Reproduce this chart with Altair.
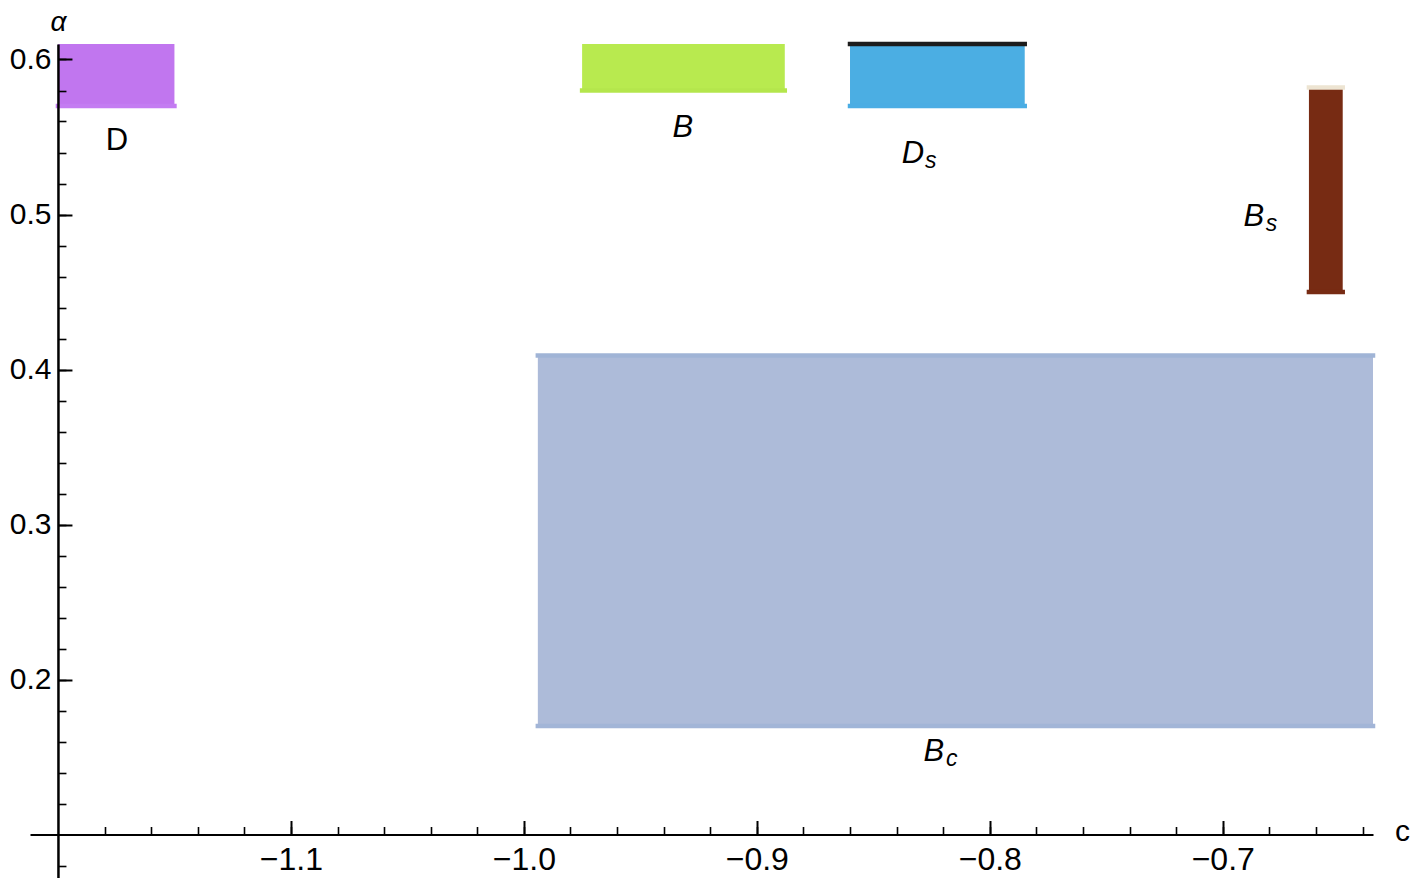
import altair as alt
import pandas as pd

# ---------------- data ----------------
regions = ["D", "B", "Ds", "Bs", "Bc"]
c_lo = [-1.200, -0.975, -0.860, -0.663, -0.994]
c_hi = [-1.150, -0.888, -0.785, -0.6485, -0.6355]
a_lo = [0.570, 0.580, 0.570, 0.450, 0.170]
a_hi = [0.610, 0.610, 0.610, 0.582, 0.409]

label_main = ["D", "B", "D", "B", "B"]
label_sub = ["", "", "s", "s", "c"]
label_c = [-1.1747, -0.9318, -0.833, -0.6867, -0.824]
label_a = [0.5419, 0.5497, 0.5335, 0.4923, 0.1471]

edge_region = ["D", "B", "Ds", "Ds", "Bs", "Bs", "Bc", "Bc"]
edge_side = ["lo", "lo", "lo", "hi", "lo", "hi", "lo", "hi"]

x_major = [-1.1, -1.0, -0.9, -0.8, -0.7]
x_minor = [-1.18, -1.16, -1.14, -1.12, -1.10, -1.08, -1.06, -1.04, -1.02, -1.00,
           -0.98, -0.96, -0.94, -0.92, -0.90, -0.88, -0.86, -0.84, -0.82, -0.80,
           -0.78, -0.76, -0.74, -0.72, -0.70, -0.68, -0.66, -0.64]
y_major = [0.2, 0.3, 0.4, 0.5, 0.6]
y_minor = [0.08, 0.12, 0.14, 0.16, 0.18, 0.20, 0.22, 0.24, 0.26, 0.28, 0.30, 0.32, 0.34,
           0.36, 0.38, 0.40, 0.42, 0.44, 0.46, 0.48, 0.50, 0.52, 0.54, 0.56, 0.58, 0.60]

# ---------------- styles ----------------
fill_colors = {"D": "#c176ef", "B": "#b8ea4f", "Ds": "#4baee3", "Bs": "#772b13", "Bc": "#adbbd9"}
edge_colors = {"D-lo": "#c47cf2", "B-lo": "#b4e64c", "Ds-lo": "#4aade4", "Ds-hi": "#1c1c1c",
               "Bs-lo": "#772b13", "Bs-hi": "#ede4d2", "Bc-lo": "#a2b5d7", "Bc-hi": "#a0b4d6"}

FONT = "Liberation Sans"
W, H = 1343, 837
X_DOM = [-1.212, -0.6355]
Y_DOM = [0.07, 0.61]
x_off = (0.1 - Y_DOM[0]) / (Y_DOM[1] - Y_DOM[0]) * H      # px from bottom to alpha=0.1
y_off = (-1.2 - X_DOM[0]) / (X_DOM[1] - X_DOM[0]) * W     # px from left to c=-1.2

rect_df = pd.DataFrame({"region": regions, "c_lo": c_lo, "c_hi": c_hi, "a_lo": a_lo, "a_hi": a_hi})
label_df = pd.DataFrame({"region": regions, "main": label_main, "sub": label_sub,
                         "lc": label_c, "la": label_a})
edge_rows = []
for r, s in zip(edge_region, edge_side):
    i = regions.index(r)
    edge_rows.append({"key": f"{r}-{s}", "x1": c_lo[i], "x2": c_hi[i],
                      "y": a_lo[i] if s == "lo" else a_hi[i]})
edge_df = pd.DataFrame(edge_rows)

xs = alt.Scale(domain=X_DOM, nice=False, zero=False)
ys = alt.Scale(domain=Y_DOM, nice=False, zero=False)

main_x = alt.Axis(orient="bottom", offset=-x_off, values=x_major, format=".1f",
                  ticks=False, tickSize=0, labelPadding=10, labelFontSize=32, labelFont=FONT,
                  labelColor="black", labelFlush=False, labelOverlap=False,
                  domainColor="black", domainWidth=2, grid=False,
                  title="c", titleX=W + 29, titleY=-3, titleAngle=0, titleAlign="center",
                  titleBaseline="middle", titleFontSize=30, titleFontWeight="normal",
                  titleFont=FONT, titleColor="black", zindex=2)
main_y = alt.Axis(orient="left", offset=-y_off, values=y_major, format=".1f",
                  ticks=False, tickSize=0, labelPadding=7, labelFontSize=30, labelFont=FONT,
                  labelColor="black", labelFlush=False, labelOverlap=False,
                  domainColor="black", domainWidth=2.5, grid=False,
                  title="α", titleX=0, titleY=-22, titleAngle=0, titleAlign="center",
                  titleBaseline="middle", titleFontSize=28, titleFontWeight="normal",
                  titleFontStyle="italic", titleFont=FONT, titleColor="black", zindex=2)
tick_x_major = alt.Axis(orient="top", offset=-(H - x_off), values=x_major, labels=False,
                        domain=False, tickSize=14, tickWidth=2, tickColor="black",
                        grid=False, title=None, zindex=2)
tick_x_minor = alt.Axis(orient="top", offset=-(H - x_off), values=x_minor, labels=False,
                        domain=False, tickSize=8, tickWidth=1.6, tickColor="black",
                        grid=False, title=None, zindex=2)
tick_y_major = alt.Axis(orient="right", offset=-(W - y_off), values=y_major, labels=False,
                        domain=False, tickSize=14, tickWidth=2, tickColor="black",
                        grid=False, title=None, zindex=2)
tick_y_minor = alt.Axis(orient="right", offset=-(W - y_off), values=y_minor, labels=False,
                        domain=False, tickSize=8, tickWidth=1.6, tickColor="black",
                        grid=False, title=None, zindex=2)

rects = alt.Chart(rect_df).mark_rect(strokeWidth=0).encode(
    x=alt.X("c_lo:Q", scale=xs, axis=main_x),
    x2="c_hi:Q",
    y=alt.Y("a_lo:Q", scale=ys, axis=main_y),
    y2="a_hi:Q",
    fill=alt.Fill("region:N", scale=alt.Scale(domain=list(fill_colors.keys()),
                                              range=list(fill_colors.values())), legend=None),
)

edges = alt.Chart(edge_df).mark_rule(strokeWidth=4.5, strokeCap="square").encode(
    x=alt.X("x1:Q", scale=xs, axis=tick_x_major),
    x2="x2:Q",
    y=alt.Y("y:Q", scale=ys, axis=tick_y_major),
    stroke=alt.Stroke("key:N", scale=alt.Scale(domain=list(edge_colors.keys()),
                                               range=list(edge_colors.values())), legend=None),
)

text_upright = alt.Chart(label_df).transform_filter("datum.region == 'D'").mark_text(
    font=FONT, fontSize=31, align="center", baseline="alphabetic", color="black"
).encode(
    x=alt.X("lc:Q", scale=xs, axis=tick_x_minor),
    y=alt.Y("la:Q", scale=ys, axis=tick_y_minor),
    text="main:N",
)

text_italic = alt.Chart(label_df).transform_filter("datum.region != 'D'").mark_text(
    font=FONT, fontSize=31, fontStyle="italic", align="center", baseline="alphabetic",
    color="black"
).encode(
    x=alt.X("lc:Q", scale=xs, axis=None),
    y=alt.Y("la:Q", scale=ys, axis=None),
    text="main:N",
)

text_sub = alt.Chart(label_df).transform_filter("datum.sub != ''").mark_text(
    font=FONT, fontSize=23, fontStyle="italic", align="left", baseline="alphabetic",
    dx=12, dy=5, color="black"
).encode(
    x=alt.X("lc:Q", scale=xs, axis=None),
    y=alt.Y("la:Q", scale=ys, axis=None),
    text="sub:N",
)

chart = alt.layer(rects, edges, text_upright, text_italic, text_sub).resolve_axis(
    x="independent", y="independent"
).properties(
    width=W, height=H,
    autosize=alt.AutoSizeParams(type="none"),
    padding={"left": 22, "top": 36, "right": 38, "bottom": 0},
).configure(background="white", view=alt.ViewConfig(stroke=None))

chart.save("out.html", embed_options={"renderer": "svg", "actions": False})
